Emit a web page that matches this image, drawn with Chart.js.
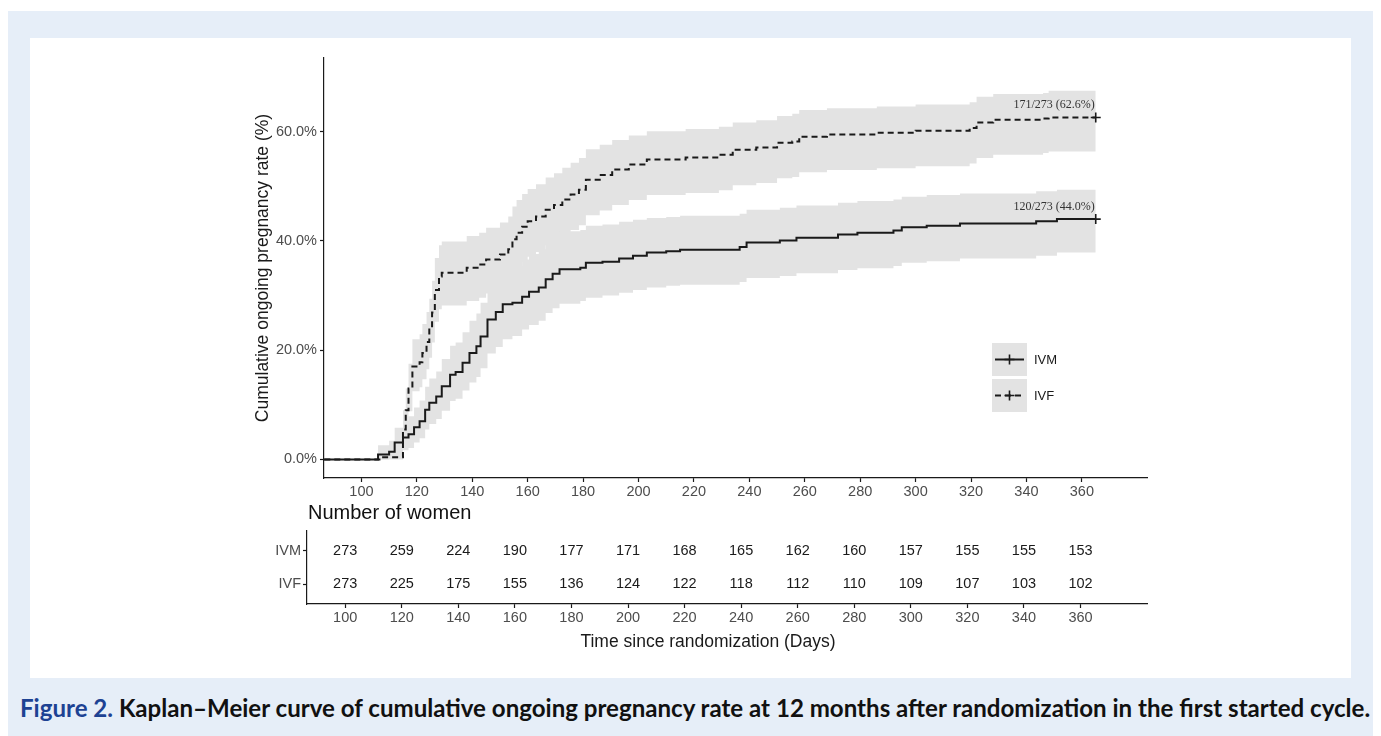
<!DOCTYPE html>
<html lang="en">
<head>
<meta charset="UTF-8">
<title>Kaplan–Meier curve</title>
<script src="https://cdn.jsdelivr.net/npm/chart.js@4.4.1/dist/chart.umd.min.js"></script>
<style>
* { margin: 0; padding: 0; box-sizing: border-box; }
html, body {
  width: 1381px;
  height: 736px;
  overflow: hidden;
  background: #fff;
  font-family: 'Liberation Sans', Arial, sans-serif;
}
.frame {
  position: absolute;
  left: 8px; top: 11px;
  width: 1365px; height: 725px;
  background: #e6eef8;
}
.card {
  position: absolute;
  left: 30px; top: 38px;
  width: 1321px; height: 640px;
  background: #fff;
}
#kmChart { position: absolute; left: 0; top: 0; }
#riskChart { position: absolute; left: 0; top: 520px; }
.risk-title {
  position: absolute;
  left: 308px; top: 500px;
  font-size: 20px; line-height: 24px;
  color: #111;
}
.x-title {
  position: absolute;
  left: 708px; top: 631px;
  transform: translateX(-50%);
  font-size: 17.5px; line-height: 21px;
  color: #1a1a1a;
  white-space: nowrap;
}
.caption {
  position: absolute;
  left: 20px; top: 697px;
  font-family: Lato, 'Open Sans', sans-serif;
  font-weight: 700;
  font-size: 18.5px; line-height: 22px;
  white-space: nowrap;
  color: #111;
}
.caption .fig { color: #1d4293; }
</style>
</head>
<body>
<div class="frame"></div>
<div class="card"></div>
<canvas id="kmChart" width="1381" height="520"></canvas>
<div class="risk-title">Number of women</div>
<canvas id="riskChart" width="1381" height="116"></canvas>
<div class="x-title">Time since randomization (Days)</div>
<p class="caption"><span class="fig">Figure 2.</span> Kaplan–Meier curve of cumulative ongoing pregnancy rate at 12 months after randomization in the first started cycle.</p>

<script>
// ---- data ----
const tickDays = [100, 120, 140, 160, 180, 200, 220, 240, 260, 280, 300, 320, 340, 360];
const pctTicks = [0, 20, 40, 60];
const groups = ['IVM', 'IVF'];

// IVM: step times (days), cumulative rate (%), 95% band
const ivmDays = [0, 106, 110, 112, 115, 117, 119, 121, 123, 124.5, 127, 129, 132, 134, 136.5, 139, 141.5, 143, 145.5, 148.5,
  151, 154.5, 158, 160.5, 164, 166.5, 169, 171.5, 179, 181, 187, 193, 198, 203, 210, 215, 236.5, 239, 251, 257,
  272, 279, 292, 295, 304, 316, 343.5, 351, 365];
const ivmRate = [0, 0.9, 1.4, 3.1, 4.0, 4.6, 5.9, 7.0, 9.1, 10.4, 11.5, 13.4, 15.5, 16.0, 17.7, 19.5, 20.7, 22.5, 25.6, 27.0,
  28.4, 28.7, 29.8, 30.7, 31.5, 33.0, 34.0, 34.8, 35.1, 36.0, 36.2, 36.8, 37.3, 37.9, 38.1, 38.4, 38.9, 39.7, 40.1, 40.6,
  41.2, 41.5, 41.9, 42.5, 42.8, 43.2, 43.6, 44.0, 44.0];
const ivmLow = [0, 0, 0.1, 1.0, 1.7, 2.1, 3.1, 3.9, 5.5, 6.5, 7.4, 8.9, 10.7, 11.1, 12.6, 14.1, 15.1, 16.7, 19.4, 20.6,
  22.0, 22.6, 23.8, 24.6, 25.4, 26.8, 27.7, 28.5, 29.0, 29.6, 30.0, 30.5, 31.0, 31.5, 31.8, 32.0, 32.5, 33.2, 33.6, 34.1,
  34.7, 35.0, 35.4, 36.0, 36.3, 36.8, 37.3, 37.9, 37.9];
const ivmHigh = [0, 2.6, 3.4, 5.8, 7.1, 7.9, 9.5, 10.8, 13.3, 14.8, 16.1, 18.4, 20.8, 21.4, 23.3, 25.4, 26.7, 28.7, 32.0, 33.5,
  35.0, 35.4, 36.6, 37.6, 38.5, 40.0, 41.0, 41.8, 42.0, 42.8, 43.0, 43.5, 43.9, 44.2, 44.4, 44.6, 45.0, 45.7, 46.1, 46.5,
  47.0, 47.3, 47.6, 48.1, 48.4, 48.7, 49.1, 49.4, 49.4];

// IVF
const ivfDays = [0, 106.5, 115, 116, 117, 118.4, 121, 122, 123.5, 124.5, 125.5, 126.5, 128, 129, 138, 142.5, 145, 150, 153, 154.5,
  156, 158, 160, 163, 166.5, 169.5, 172.5, 175.5, 178.5, 181, 186, 190.5, 196.5, 203, 217, 229, 234, 242.5, 250, 255.5,
  258, 268, 286, 300, 319.5, 322, 328, 346, 348, 365];
const ivfRate = [0, 0.4, 5.5, 9.0, 13.0, 17.0, 17.8, 19.5, 21.5, 23.8, 26.9, 31.0, 33.5, 34.2, 35.1, 35.7, 36.6, 37.5, 38.5, 40.3,
  41.5, 42.6, 43.6, 44.5, 45.7, 46.6, 47.6, 48.5, 49.4, 51.2, 52.1, 53.1, 54.0, 54.9, 55.3, 55.8, 56.7, 57.1, 58.0, 58.2,
  59.1, 59.5, 59.8, 60.2, 60.7, 61.7, 62.2, 62.4, 62.6, 62.6];
const ivfLow = [0, 0, 2.8, 5.5, 8.8, 12.5, 13.2, 14.7, 16.5, 18.6, 21.4, 25.2, 27.5, 28.2, 29.0, 29.6, 30.4, 31.3, 32.3, 34.0,
  35.1, 36.2, 37.1, 38.0, 39.2, 40.1, 41.1, 42.0, 42.9, 44.7, 45.6, 46.6, 47.5, 48.4, 48.8, 49.3, 50.2, 50.6, 51.5, 51.7,
  52.6, 53.0, 53.3, 53.7, 54.2, 55.2, 55.8, 56.1, 56.4, 56.4];
const ivfHigh = [0, 1.5, 9.0, 13.0, 17.5, 22.0, 22.9, 24.8, 27.0, 29.4, 32.7, 36.9, 39.2, 39.9, 40.9, 41.5, 42.4, 43.4, 44.5, 46.3,
  47.5, 48.6, 49.5, 50.4, 51.6, 52.4, 53.4, 54.3, 55.2, 56.8, 57.6, 58.5, 59.3, 60.1, 60.5, 60.9, 61.7, 62.1, 62.9, 63.3,
  64.0, 64.3, 64.6, 65.0, 65.4, 66.4, 66.9, 67.1, 67.5, 67.5];

const endLabels = ['120/273 (44.0%)', '171/273 (62.6%)'];

// number at risk
const riskDays = [100, 120, 140, 160, 180, 200, 220, 240, 260, 280, 300, 320, 340, 360];
const riskIVM = [273, 259, 224, 190, 177, 171, 168, 165, 162, 160, 157, 155, 155, 153];
const riskIVF = [273, 225, 175, 155, 136, 124, 122, 118, 112, 110, 109, 107, 103, 102];

// ---- styling ----
const INK = '#1a1a1a';
const TICK = '#4d4d4d';
const BAND = '#e3e3e3';
const FONT = "'Liberation Sans', Arial, sans-serif";
Chart.defaults.font.family = FONT;
Chart.defaults.color = TICK;

const pts = (days, vals) => days.map((d, i) => ({ x: d, y: vals[i] }));

function curve(label, days, rate, dash) {
  return {
    label: label,
    data: pts(days, rate),
    stepped: true,
    borderColor: INK,
    borderWidth: 2,
    borderDash: dash,
    fill: false,
    pointStyle: 'cross',
    pointRadius: c => (c.dataIndex === days.length - 1 ? 5 : 0),
    pointBorderColor: INK,
    pointBackgroundColor: INK,
    pointBorderWidth: 1.6
  };
}

function band(days, vals, fill) {
  return {
    data: pts(days, vals),
    stepped: true,
    borderWidth: 0,
    borderColor: 'rgba(0,0,0,0)',
    backgroundColor: BAND,
    pointRadius: 0,
    fill: fill
  };
}

function xAxis(height) {
  return {
    type: 'linear',
    min: 86.5,
    max: 383.5,
    afterBuildTicks: a => { a.ticks = tickDays.map(v => ({ value: v })); },
    afterFit: a => { a.height = height; },
    border: { color: INK, width: 1.2 },
    grid: { drawOnChartArea: false, tickLength: 4, color: INK, tickWidth: 1.2 },
    ticks: { color: TICK, font: { size: 14.5 }, padding: 1.2, maxRotation: 0, autoSkip: false }
  };
}

// legend drawn inside the plot, keys on grey like the ribbons
const kmLegend = {
  id: 'kmLegend',
  afterDatasetsDraw(chart) {
    const ctx = chart.ctx;
    const keys = [{ name: groups[0], dash: [], top: 343 }, { name: groups[1], dash: [6, 4], top: 379 }];
    ctx.save();
    keys.forEach(k => {
      const cy = k.top + 16.5;
      ctx.fillStyle = BAND;
      ctx.fillRect(992, k.top, 35, 33);
      ctx.strokeStyle = INK;
      ctx.lineWidth = 2;
      ctx.setLineDash(k.dash);
      ctx.beginPath();
      ctx.moveTo(995, cy);
      ctx.lineTo(1024, cy);
      ctx.stroke();
      ctx.setLineDash([]);
      ctx.lineWidth = 1.6;
      ctx.beginPath();
      ctx.moveTo(1004.5, cy);
      ctx.lineTo(1014.5, cy);
      ctx.moveTo(1009.5, cy - 5);
      ctx.lineTo(1009.5, cy + 5);
      ctx.stroke();
      ctx.fillStyle = INK;
      ctx.font = '13px ' + FONT;
      ctx.textAlign = 'left';
      ctx.textBaseline = 'middle';
      ctx.fillText(k.name, 1034, cy + 1);
    });
    ctx.restore();
  }
};

// "n/N (x%)" at the end of each curve
const kmEndLabels = {
  id: 'kmEndLabels',
  afterDatasetsDraw(chart) {
    const ctx = chart.ctx;
    ctx.save();
    ctx.font = "12px 'Liberation Serif', 'Times New Roman', serif";
    ctx.fillStyle = '#333';
    ctx.textAlign = 'right';
    ctx.textBaseline = 'middle';
    [0, 1].forEach(i => {
      const meta = chart.getDatasetMeta(i);
      const last = meta.data[meta.data.length - 1];
      ctx.fillText(endLabels[i], last.x - 1, last.y - 12.7);
    });
    ctx.restore();
  }
};

new Chart(document.getElementById('kmChart'), {
  type: 'line',
  data: {
    datasets: [
      curve(groups[0], ivmDays, ivmRate, []),
      curve(groups[1], ivfDays, ivfRate, [6, 4]),
      band(ivmDays, ivmHigh, '+1'),
      band(ivmDays, ivmLow, false),
      band(ivfDays, ivfHigh, '+1'),
      band(ivfDays, ivfLow, false)
    ]
  },
  options: {
    responsive: false,
    animation: false,
    events: [],
    layout: { padding: { left: 244, top: 58, right: 234, bottom: 0 } },
    plugins: { legend: { display: false }, tooltip: { enabled: false } },
    scales: {
      x: xAxis(42),
      y: {
        type: 'linear',
        min: -3.4,
        max: 73.5,
        afterBuildTicks: a => { a.ticks = pctTicks.map(v => ({ value: v })); },
        afterFit: a => { a.width = 80; },
        border: { color: INK, width: 1.2 },
        grid: { drawOnChartArea: false, tickLength: 4, color: INK, tickWidth: 1.2 },
        ticks: { color: TICK, font: { size: 14.5 }, padding: 3, callback: v => v.toFixed(1) + '%' },
        title: {
          display: true,
          text: 'Cumulative ongoing pregnancy rate (%)',
          color: INK,
          font: { size: 17.5 },
          padding: { top: 8.5, bottom: 0 }
        }
      }
    }
  },
  plugins: [kmLegend, kmEndLabels]
});

// risk table: numbers placed through the chart's own scales
const riskNumbers = {
  id: 'riskNumbers',
  afterDatasetsDraw(chart) {
    const ctx = chart.ctx;
    ctx.save();
    ctx.font = '14.5px ' + FONT;
    ctx.fillStyle = INK;
    ctx.textAlign = 'center';
    ctx.textBaseline = 'middle';
    chart.data.datasets.forEach((ds, i) => {
      chart.getDatasetMeta(i).data.forEach((p, j) => ctx.fillText(String(ds.counts[j]), p.x, p.y));
    });
    ctx.restore();
  }
};

new Chart(document.getElementById('riskChart'), {
  type: 'line',
  data: {
    datasets: [
      { data: riskDays.map(d => ({ x: d, y: 0 })), counts: riskIVM, showLine: false, pointRadius: 0 },
      { data: riskDays.map(d => ({ x: d, y: 1 })), counts: riskIVF, showLine: false, pointRadius: 0 }
    ]
  },
  options: {
    responsive: false,
    animation: false,
    events: [],
    layout: { padding: { left: 230, top: 10, right: 234, bottom: 0 } },
    plugins: { legend: { display: false }, tooltip: { enabled: false } },
    scales: {
      x: xAxis(32),
      y: {
        type: 'linear',
        reverse: true,
        min: -0.6,
        max: 1.6,
        afterBuildTicks: a => { a.ticks = [0, 1].map(v => ({ value: v })); },
        afterFit: a => { a.width = 77; },
        border: { color: INK, width: 1.2 },
        grid: { drawOnChartArea: false, tickLength: 4, color: INK, tickWidth: 1.2 },
        ticks: { color: TICK, font: { size: 14.5 }, padding: 2, callback: v => groups[v] }
      }
    }
  },
  plugins: [riskNumbers]
});

// stretch the caption to the width it has in the figure
const cap = document.querySelector('.caption');
const capWidth = cap.getBoundingClientRect().width;
cap.style.fontSize = (18.5 * 1350 / capWidth).toFixed(2) + 'px';
</script>
</body>
</html>
